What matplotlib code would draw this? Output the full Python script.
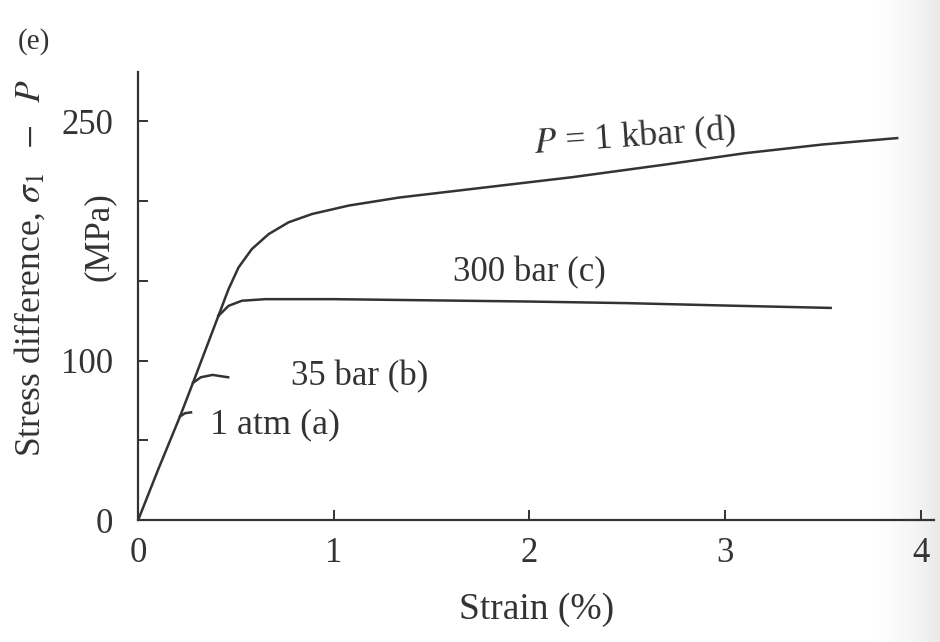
import numpy as np
import matplotlib
matplotlib.use("Agg")
import matplotlib.pyplot as plt

plt.rcParams['font.family'] = ['Liberation Serif', 'DejaVu Serif']
plt.rcParams['mathtext.fontset'] = 'stix'

ink = '#333333'

# elastic part, shared by all runs (strain %, MPa)
elastic_x = [0, 0.1, 0.214, 0.28, 0.41]
elastic_y = [0, 31, 65, 86, 128]

# 1 atm (a)
atm_x = [0.214, 0.24, 0.27]
atm_y = [65, 67, 67.5]

# 35 bar (b)
b35_x = [0.28, 0.32, 0.38, 0.46]
b35_y = [86, 89.5, 91, 89.5]

# 300 bar (c)
b300_x = [0.41, 0.462, 0.53, 0.65, 1.0, 1.33, 2.0, 2.5, 3.0, 3.54]
b300_y = [128, 134.3, 137.5, 138.5, 138.5, 138, 137, 136, 134.5, 133]

# 1 kbar (d)
kbar_x = [0.41, 0.462, 0.513, 0.581, 0.667, 0.769, 0.889, 1.077, 1.333,
          1.7, 2.22, 2.7, 3.1, 3.5, 3.88]
kbar_y = [128, 144.8, 158.4, 169.9, 179.3, 186.7, 191.9, 197.2, 202.2,
          207.5, 215, 223, 230, 235.5, 239.5]

x_ticks = [0, 1, 2, 3, 4]
y_ticks = [0, 50, 100, 150, 200, 250]
y_labels = ['0', '', '100', '', '', '250']

fig = plt.figure(figsize=(9.4, 6.42), dpi=100)

# scan shadow on the right edge
bg = fig.add_axes([0.0, 0.0, 1.0, 1.0], zorder=-5)
grad = np.clip((np.linspace(0, 1, 400) - 0.925) / 0.075, 0, 1) ** 1.5
bg.imshow(grad[None, :], aspect='auto', cmap='Greys', vmin=0, vmax=6,
          extent=[0, 1, 0, 1])
bg.axis('off')

ax = fig.add_axes([0.147, 0.19, 0.847, 0.698])
ax.patch.set_alpha(0)

lw = 1.8
ax.plot(elastic_x, elastic_y, color=ink, lw=lw)
ax.plot(atm_x, atm_y, color=ink, lw=lw)
ax.plot(b35_x, b35_y, color=ink, lw=lw)
ax.plot(b300_x, b300_y, color=ink, lw=lw)
ax.plot(kbar_x, kbar_y, color=ink, lw=lw)

ax.set_xlim(0, 4.07)
ax.set_ylim(0, 281)
ax.set_xticks(x_ticks)
ax.set_yticks(y_ticks)
ax.set_yticklabels(y_labels)
for s in ['top', 'right']:
    ax.spines[s].set_visible(False)
for s in ['left', 'bottom']:
    ax.spines[s].set_linewidth(1.6)
    ax.spines[s].set_color(ink)
ax.tick_params(direction='in', length=7, width=1.4, color=ink,
               labelsize=25, labelcolor=ink)
ax.tick_params(axis='x', pad=12)
ax.tick_params(axis='y', pad=18)

ax.set_xlabel('Strain (%)', fontsize=27, color=ink, labelpad=16)

ax.text(2.54, 240, r'$P$ = 1 kbar (d)', fontsize=26, color=ink,
        ha='center', va='center', rotation=4)
ax.text(2.0, 155, '300 bar (c)', fontsize=25, color=ink, ha='center', va='center')
ax.text(1.13, 90, '35 bar (b)', fontsize=25, color=ink, ha='center', va='center')
ax.text(0.70, 60, '1 atm (a)', fontsize=26, color=ink, ha='center', va='center')

fig.text(30 / 940, 1 - 268 / 642,
         r'Stress difference, $\sigma_1\ \ -\ \ P$',
         fontsize=25.5, color=ink, rotation=90, ha='center', va='center')
fig.text(99 / 940, 1 - 237 / 642, '(MPa)', fontsize=25, color=ink,
         rotation=90, ha='center', va='center')
fig.text(34 / 940, 1 - 42 / 642, '(e)', fontsize=21, color=ink,
         ha='center', va='center')

fig.savefig('out.png', dpi=100)
